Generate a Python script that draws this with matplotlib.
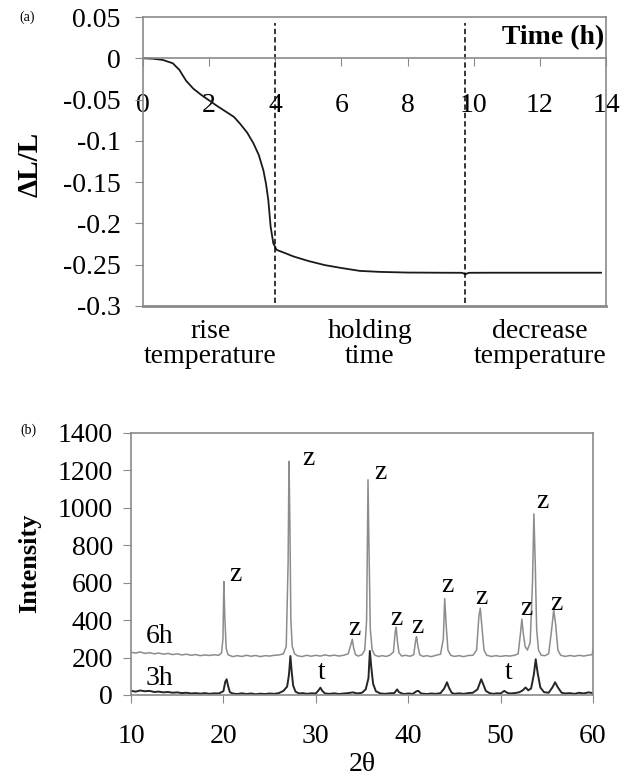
import numpy as np
import matplotlib.pyplot as plt

plt.rcParams['font.family'] = ['Liberation Serif', 'DejaVu Serif']
plt.rcParams['axes.unicode_minus'] = False
plt.rcParams['font.size'] = 20

# (a) contraccion durante el ciclo termico
tiempo = [0, 0.3, 0.6, 0.9, 1.1, 1.3, 1.52, 1.75, 2.0, 2.25, 2.52, 2.75, 2.93,
          3.15, 3.34, 3.5, 3.64, 3.72, 3.79, 3.86, 3.94, 4.04, 4.3, 4.55, 5.0,
          5.5, 6.0, 6.56, 7.17, 8.0, 9.0, 9.65, 9.75, 9.85, 10.5, 12.0, 13.85]
delta_l = [0, -0.0005, -0.002, -0.006, -0.014, -0.027, -0.0367, -0.044, -0.051,
           -0.058, -0.065, -0.071, -0.079, -0.090, -0.103, -0.117, -0.1356,
           -0.152, -0.172, -0.204, -0.224, -0.232, -0.236, -0.240, -0.2455,
           -0.2505, -0.254, -0.2575, -0.2587, -0.2595, -0.2597, -0.2598,
           -0.2615, -0.2598, -0.2597, -0.2597, -0.2597]
limites = [4.0, 9.75]
etapas = ['rise\ntemperature', 'holding\ntime', 'decrease\ntemperature']
etapas_x = [2.03, 6.86, 12.0]
yticks_a = [-0.3, -0.25, -0.2, -0.15, -0.1, -0.05, 0, 0.05]
ylabels_a = ['-0.3', '-0.25', '-0.2', '-0.15', '-0.1', '-0.05', '0', '0.05']

# (b) difractogramas
x_6h = [10.0, 10.5, 11, 11.5, 12, 12.5, 13, 13.5, 14, 14.5, 15, 15.5, 16, 16.5,
        17, 17.5, 18, 18.5, 19, 19.5, 19.8, 19.95, 20.05, 20.15, 20.3, 20.5,
        21, 21.5, 22, 22.5, 23, 23.5, 24, 24.5, 25, 25.5, 26, 26.5, 26.8,
        27.0, 27.1, 27.2, 27.3, 27.45, 27.7, 28, 28.5, 29, 29.5,
        30, 30.5, 31, 31.5, 32, 32.5, 33, 33.5, 33.8, 33.95, 34.1, 34.3, 34.6,
        35, 35.3, 35.5, 35.65, 35.75, 35.9, 36.1, 36.4, 36.8, 37.2, 37.6, 38,
        38.4, 38.6, 38.7, 38.85, 39.0, 39.3, 39.7, 40.2, 40.6, 40.8, 40.9,
        41.05, 41.25, 41.6, 42, 42.5, 43, 43.5, 43.8, 43.95, 44.1, 44.3, 44.6,
        45, 45.5, 46, 46.5, 47, 47.4, 47.65, 47.8, 47.95, 48.2, 48.5, 49, 49.5,
        50, 50.5, 51, 51.5, 51.9, 52.15, 52.3, 52.45, 52.65, 52.9, 53.2, 53.45,
        53.6, 53.75, 53.9, 54.1, 54.4, 54.8, 55.2, 55.5, 55.75, 55.95, 56.2,
        56.5, 57, 57.5, 58, 58.5, 59, 59.5, 59.9, 60]
i_6h = [228, 224, 230, 222, 226, 220, 224, 218, 222, 216, 220, 214, 218, 212,
        216, 210, 214, 211, 215, 212, 225, 300, 606, 420, 250, 215,
        205, 210, 206, 212, 207, 211, 205, 210, 208, 212, 214, 220, 260,
        700, 1248, 900, 400, 260, 220, 210, 205, 212, 207,
        212, 208, 214, 209, 213, 208, 212, 220, 270, 298, 250, 215, 208,
        215, 240, 400, 1150, 800, 350, 240, 212, 206, 210, 206, 212,
        230, 340, 362, 280, 225, 208, 212, 207, 215, 290, 312,
        260, 215, 206, 210, 205, 212, 218, 300, 515, 380, 240, 212,
        206, 210, 205, 211, 212, 240, 420, 464, 380, 240, 212, 206, 210,
        206, 210, 208, 212, 220, 330, 405, 330, 260, 240, 280, 600,
        968, 700, 350, 240, 212, 210, 220, 340, 455, 380, 240,
        212, 206, 211, 207, 212, 208, 213, 215, 240]

x_3h = [10, 10.5, 11, 11.5, 12, 12.5, 13, 13.5, 14, 14.5, 15, 15.5, 16, 16.5,
        17, 17.5, 18, 18.5, 19, 19.5, 20.0, 20.2, 20.35, 20.5, 20.7, 21, 21.5,
        22, 22.5, 23, 23.5, 24, 24.5, 25, 25.5, 26, 26.5, 26.9, 27.1, 27.25,
        27.4, 27.55, 27.8, 28.2, 28.6, 29, 29.5, 30, 30.3, 30.5, 30.7, 31,
        31.5, 32, 32.5, 33, 33.5, 34, 34.5, 35, 35.4, 35.7, 35.85, 36.0, 36.2,
        36.5, 37, 37.5, 38, 38.5, 38.8, 39.0, 39.5, 40, 40.5, 40.9, 41.1, 41.4,
        42, 42.5, 43, 43.5, 43.9, 44.2, 44.4, 44.7, 45, 45.5, 46, 46.5, 47,
        47.5, 47.9, 48.1, 48.4, 48.8, 49.2, 49.6, 50, 50.4, 50.7, 51, 51.5, 52,
        52.4, 52.7, 53.0, 53.3, 53.6, 53.8, 54.0, 54.3, 54.7, 55.2, 55.6, 55.9,
        56.2, 56.6, 57, 57.5, 58, 58.5, 59, 59.5, 60]
i_3h = [22, 18, 24, 20, 22, 16, 18, 14, 16, 12, 14, 10, 12, 8,
        10, 7, 10, 6, 9, 8, 20, 70, 84, 50, 15, 8, 5,
        9, 5, 8, 4, 7, 5, 8, 6, 10, 22, 45, 110, 208,
        120, 50, 18, 8, 10, 6, 9, 8, 25, 39, 22, 8,
        6, 9, 5, 8, 10, 14, 8, 12, 30, 90, 235, 150, 60,
        20, 8, 6, 9, 10, 30, 15, 5, 8, 6, 20, 22, 8,
        5, 8, 6, 10, 35, 68, 40, 12, 6, 9, 6, 10, 12,
        30, 84, 60, 22, 10, 6, 9, 8, 22, 12, 8, 10, 14,
        25, 40, 25, 35, 110, 191, 120, 40, 15, 12, 40, 68,
        40, 12, 8, 10, 6, 12, 8, 14, 10]

# posiciones de las etiquetas de fase
z_x = [21.25, 29.2, 34.2, 37.0, 38.7, 41.0, 44.2, 47.95, 52.75, 54.55, 56.07]
z_y = [642, 1266, 357, 1189, 410, 365, 583, 522, 464, 1034, 490]
t_x = [30.6, 50.9]
t_y = [120, 120]

gris = '#8a8a8a'

fig = plt.figure(figsize=(6.31, 7.80), dpi=100)
ax1 = fig.add_axes([0.2266, 0.6077, 0.7338, 0.3705])
ax2 = fig.add_axes([0.2076, 0.1090, 0.7322, 0.3359])

# ---- grafico (a) ----
ax1.plot(tiempo, delta_l, color='#1a1a1a', lw=1.3)
ax1.vlines(limites, -0.2964, 0.0427, color='k', lw=1.1, linestyles=[(0, (3.5, 2))])
ax1.set_xlim(0, 14)
ax1.set_ylim(-0.3, 0.05)
ax1.set_xticks(range(0, 15, 2))
ax1.set_yticks(yticks_a)
ax1.set_yticklabels(ylabels_a)
ax1.spines['bottom'].set_position(('data', 0))
for s in ax1.spines.values():
    s.set_color(gris)
    s.set_linewidth(1.2)
ax1.axhline(-0.3, color=gris, lw=2.0, clip_on=False)
ax1.tick_params(axis='x', direction='out', length=6, color=gris, pad=19)
ax1.tick_params(axis='y', direction='out', length=6, color=gris, pad=10)
ax1.text(13.95, 0.025, 'Time (h)', ha='right', va='center',
         fontweight='bold', fontsize=20)
for x, txt in zip(etapas_x, etapas):
    ax1.text(x, -0.346, txt, ha='center', va='center', linespacing=1.0,
             clip_on=False)

fig.text(0.048, 1 - 164 / 780, 'ΔL/L', rotation=90, fontweight='bold',
         fontsize=21, ha='center', va='center')
fig.text(27 / 631, 1 - 17 / 780, '(a)', fontsize=10, ha='center', va='center')

# ---- grafico (b) ----
ax2.plot(x_6h, i_6h, color='#8c8c8c', lw=1.1)
ax2.plot(x_3h, i_3h, color='#262626', lw=1.4)
ax2.set_xlim(10, 60)
ax2.set_ylim(0, 1400)
ax2.set_xticks(range(10, 61, 10))
ax2.set_yticks(range(0, 1401, 200))
for s in ax2.spines.values():
    s.set_color(gris)
    s.set_linewidth(1.2)
ax2.tick_params(axis='x', direction='out', length=6, color=gris, pad=15)
ax2.tick_params(axis='y', direction='out', length=6, color=gris, pad=7)
ax2.set_xlabel('2θ', labelpad=2)

for x, y in zip(z_x, z_y):
    ax2.text(x, y, 'z', ha='center', va='center')
for x, y in zip(t_x, t_y):
    ax2.text(x, y, 't', ha='center', va='center')
ax2.text(13.1, 312, '6h', ha='center', va='center')
ax2.text(13.1, 90, '3h', ha='center', va='center')

fig.text(30 / 631, 1 - 563 / 780, 'Intensity', rotation=90, fontweight='bold',
         fontsize=19, ha='center', va='center')
fig.text(28 / 631, 1 - 430 / 780, '(b)', fontsize=10, ha='center', va='center')

fig.savefig('out.png', dpi=100)
